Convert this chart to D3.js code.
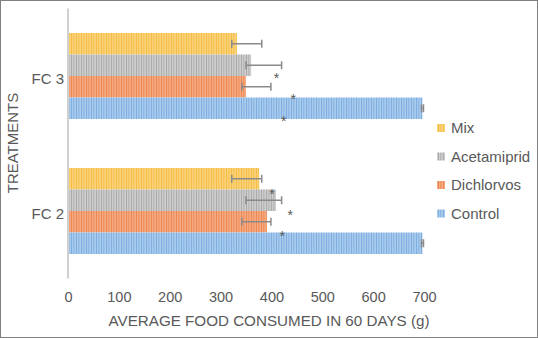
<!DOCTYPE html>
<html>
<head>
<meta charset="utf-8">
<script src="https://cdn.jsdelivr.net/npm/d3@7"></script>
<style>
  body { margin: 0; background: #fff; }
  text { font-family: "Liberation Sans", Arial, sans-serif; fill: #595959; }
</style>
</head>
<body>
<div id="chart"></div>
<script>
// Food consumption bar chart

// Data
const categories = ["FC 3", "FC 2"];
const series = ["Mix", "Acetamiprid", "Dichlorvos", "Control"];
const valuesFC3 = [332, 360, 350, 697];
const valuesFC2 = [376, 409, 391, 697];
const errLowFC3 = [322, 350, 342, 695];
const errHighFC3 = [381, 420, 399, 699];
const errLowFC2 = [322, 350, 342, 695];
const errHighFC2 = [381, 420, 399, 699];
// asterisks: series index, x value
const starsFC3 = [[1, 410], [2, 443], [3, 424]];
const starsFC2 = [[1, 401], [2, 437], [3, 421]];
const xTicks = [0, 100, 200, 300, 400, 500, 600, 700];

const W = 538, H = 338;
const colors = {
  "Mix": ["#fad27a", "#f5bd45"],
  "Acetamiprid": ["#cdcdcd", "#ababab"],
  "Dichlorvos": ["#f5a982", "#ec8850"],
  "Control": ["#a9cbee", "#7eaee0"]
};

const rows = [
  {cat: "FC 3", vals: valuesFC3, lo: errLowFC3, hi: errHighFC3, stars: starsFC3, edge: "bottom"},
  {cat: "FC 2", vals: valuesFC2, lo: errLowFC2, hi: errHighFC2, stars: starsFC2, edge: "top"}
];

const svg = d3.select("#chart").append("svg")
  .attr("width", W).attr("height", H);

// stripe patterns
const defs = svg.append("defs");
series.forEach((s, i) => {
  const p = defs.append("pattern")
    .attr("id", "pat" + i)
    .attr("patternUnits", "userSpaceOnUse")
    .attr("width", 5).attr("height", 10);
  p.append("rect").attr("width", 5).attr("height", 10).attr("fill", colors[s][0]);
  p.append("rect").attr("x", 1).attr("width", 1).attr("height", 10).attr("fill", colors[s][1]);
  p.append("rect").attr("x", 3).attr("width", 1.5).attr("height", 10).attr("fill", colors[s][1]).attr("opacity", 0.6);
});

svg.append("rect")
  .attr("x", 0.5).attr("y", 0.5).attr("width", W - 1).attr("height", H - 1)
  .attr("fill", "#fff").attr("stroke", "#808080");

const x = d3.scaleLinear().domain([0, 700]).range([68, 424]);
const y0 = d3.scaleBand().domain(categories).range([8.5, 278.5]);
const y1 = d3.scaleBand().domain(series).range([0, y0.bandwidth()])
  .paddingInner(0).paddingOuter(1.14);

// x tick labels
svg.append("g").attr("transform", "translate(0,302)")
  .call(d3.axisBottom(x).tickValues(xTicks).tickSize(0).tickPadding(0))
  .call(g => g.select(".domain").remove())
  .selectAll("text")
  .attr("y", 0).attr("dy", 0)
  .style("font-size", "14.5px").attr("fill", "#595959");

svg.append("text")
  .attr("x", 269).attr("y", 326)
  .attr("text-anchor", "middle")
  .style("font-size", "15.2px")
  .text("AVERAGE FOOD CONSUMED IN 60 DAYS (g)");

svg.append("text")
  .attr("transform", "translate(18,143) rotate(-90)")
  .attr("text-anchor", "middle")
  .style("font-size", "15px")
  .text("TREATMENTS");

// category labels
svg.append("g").attr("transform", "translate(64,0)")
  .call(d3.axisLeft(y0).tickSize(0).tickPadding(0))
  .call(g => g.select(".domain").remove())
  .selectAll("text")
  .attr("dy", "0.32em").attr("y", 3)
  .style("font-size", "15px").attr("fill", "#595959");

// bars
rows.forEach(r => {
  const g = svg.append("g").attr("transform", `translate(0,${y0(r.cat)})`);
  g.selectAll("rect.bar")
    .data(series)
    .enter().append("rect")
      .attr("class", "bar")
      .attr("x", x(0))
      .attr("y", s => y1(s))
      .attr("width", (s, i) => x(r.vals[i]) - x(0))
      .attr("height", y1.bandwidth())
      .attr("fill", (s, i) => `url(#pat${i})`);

  // error bars
  series.forEach((s, i) => {
    const cy = y1(s) + y1.bandwidth() / 2;
    g.append("line")
      .attr("x1", x(r.lo[i])).attr("x2", x(r.hi[i]))
      .attr("y1", cy).attr("y2", cy)
      .attr("stroke", "#8a8a8a").attr("stroke-width", 1.5);
    [r.lo[i], r.hi[i]].forEach(v => {
      g.append("line")
        .attr("x1", x(v)).attr("x2", x(v))
        .attr("y1", cy - 4).attr("y2", cy + 4)
        .attr("stroke", "#8a8a8a").attr("stroke-width", 1.5);
    });
  });

  // asterisks
  g.selectAll("text.star")
    .data(r.stars)
    .enter().append("text")
      .attr("class", "star")
      .attr("x", d => x(d[1]))
      .attr("y", d => {
        const s = series[d[0]];
        const cy = r.edge === "bottom" ? y1(s) + y1.bandwidth() - 2 : y1(s);
        return cy + 9;
      })
      .attr("text-anchor", "middle")
      .style("font-size", "14px")
      .attr("fill", "#404040")
      .text("*");
});

// vertical axis line
svg.append("line")
  .attr("x1", 68).attr("x2", 68)
  .attr("y1", y0.range()[0]).attr("y2", y0.range()[1])
  .attr("stroke", "#d0d0d0").attr("stroke-width", 2);

// legend
const leg = svg.append("g").attr("transform", "translate(437,128)");
series.forEach((s, i) => {
  const row = leg.append("g").attr("transform", `translate(0,${i * 28.5})`);
  row.append("rect")
    .attr("x", 0).attr("y", -4).attr("width", 8).attr("height", 8)
    .attr("fill", `url(#pat${i})`);
  row.append("text")
    .attr("x", 14).attr("y", 0).attr("dy", "0.35em")
    .style("font-size", "15px")
    .text(s);
});
</script>
</body>
</html>
